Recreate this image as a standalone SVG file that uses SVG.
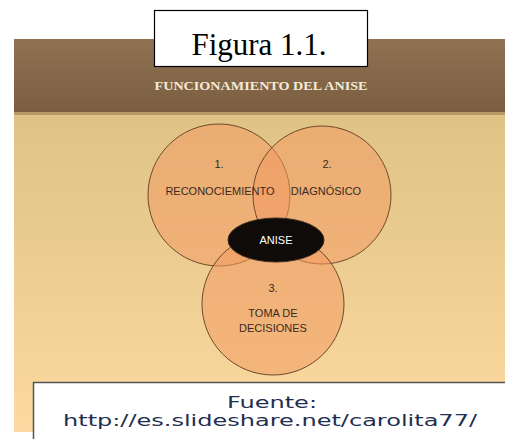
<svg xmlns="http://www.w3.org/2000/svg" width="505" height="439" viewBox="0 0 505 439">
<defs>
<linearGradient id="hdr" x1="0" y1="0" x2="0" y2="1">
<stop offset="0" stop-color="#8f7252"/>
<stop offset="1" stop-color="#7b5e41"/>
</linearGradient>
<linearGradient id="bg" x1="0" y1="0" x2="0" y2="1">
<stop offset="0" stop-color="#d8bd7e"/>
<stop offset="1" stop-color="#fcd9a0"/>
</linearGradient>
</defs>
<style>
.circ{fill:#f39a62;fill-opacity:0.55;stroke:#6e4a2c;stroke-width:1}
.lbl{font-family:"Liberation Sans",Arial,sans-serif;font-size:11px;fill:#3b2a1e;text-anchor:middle}
</style>
<rect width="505" height="439" fill="#ffffff"/>
<g id="slide">
<rect x="14" y="39" width="491" height="393" fill="url(#bg)"/>
<rect x="14" y="39" width="491" height="74" fill="url(#hdr)"/>
<rect x="14" y="112" width="491" height="3" fill="#b89a68"/>
<text x="261" y="90" font-family="'Liberation Serif','Times New Roman',serif" font-size="13" font-weight="bold" fill="#f3ead8" text-anchor="middle" textLength="213" lengthAdjust="spacingAndGlyphs">FUNCIONAMIENTO  DEL  ANISE</text>
</g>
<g id="title">
<rect x="154.5" y="10.5" width="213" height="56" fill="#ffffff" stroke="#000000" stroke-width="1.2"/>
<text x="259" y="55" font-family="'Liberation Serif','Times New Roman',serif" font-size="31" fill="#000000" text-anchor="middle">Figura 1.1.</text>
</g>
<g id="connectors"></g>
<g id="c1"><circle class="circ" cx="219" cy="195" r="71"/></g>
<g id="c2"><circle class="circ" cx="322" cy="195" r="69"/></g>
<g id="c3"><circle class="circ" cx="273" cy="304" r="71"/></g>
<g id="t1">
<text class="lbl" x="219" y="168">1.</text>
<text class="lbl" x="220" y="195">RECONOCIEMIENTO</text>
</g>
<g id="t2">
<text class="lbl" x="327" y="168">2.</text>
<text class="lbl" x="326" y="195">DIAGNÓSICO</text>
</g>
<g id="t3">
<text class="lbl" x="273" y="292">3.</text>
<text class="lbl" x="273" y="317">TOMA DE</text>
<text class="lbl" x="273" y="332">DECISIONES</text>
</g>
<g id="anise">
<ellipse cx="276" cy="240" rx="48" ry="22" fill="#0e0b09" stroke="#3a2a1e" stroke-width="1"/>
<text x="276" y="244" font-family="'Liberation Sans',Arial,sans-serif" font-size="11" fill="#ffffff" text-anchor="middle">ANISE</text>
</g>
<g id="source">
<rect x="33.5" y="382.5" width="480" height="70" fill="#ffffff" stroke="#555555" stroke-width="1.5"/>
<text x="272" y="408" font-family="'DejaVu Sans',Verdana,sans-serif" font-size="16" fill="#1f2f4f" text-anchor="middle" textLength="90" lengthAdjust="spacingAndGlyphs">Fuente:</text>
<text x="270" y="426" font-family="'DejaVu Sans',Verdana,sans-serif" font-size="16" fill="#1f2f4f" text-anchor="middle" textLength="414" lengthAdjust="spacingAndGlyphs">http://es.slideshare.net/carolita77/</text>
</g>
</svg>
